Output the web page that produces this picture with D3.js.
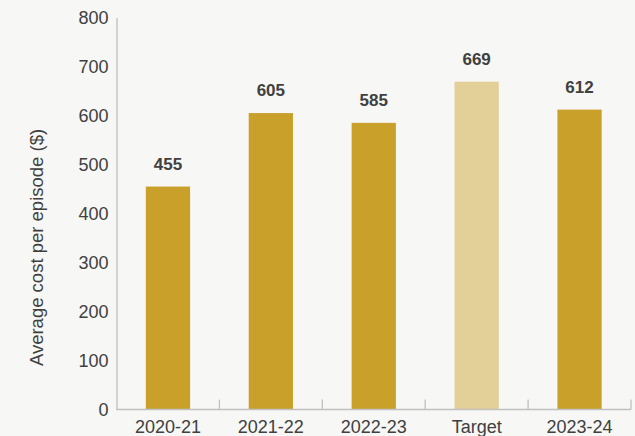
<!DOCTYPE html>
<html>
<head>
<meta charset="utf-8">
<script src="https://cdn.jsdelivr.net/npm/d3@7"></script>
<style>
  html, body { margin: 0; padding: 0; background: #f7f7f5; }
  svg { display: block; font-family: "Liberation Sans", Arial, sans-serif; }
</style>
</head>
<body>
<svg id="chart" width="635" height="436"></svg>
<script>
// Average cost per episode by year, with the target shown as a lighter bar
const categories = ["2020-21", "2021-22", "2022-23", "Target", "2023-24"];
const values = [455, 605, 585, 669, 612];
const isTarget = [false, false, false, true, false];
const yTicks = [0, 100, 200, 300, 400, 500, 600, 700, 800];

const svg = d3.select("#chart");
const W = 635, H = 436;
svg.append("rect").attr("width", W).attr("height", H).attr("fill", "#f7f7f5");

const plotLeft = 116.5, plotRight = 631, plotTop = 17.5, plotBottom = 409.5;
const textColor = "#404040";
const axisColor = "#c0c0c0";

const x = d3.scaleBand().domain(categories).range([plotLeft, plotRight]).paddingInner(0.57).paddingOuter(0.285);
const y = d3.scaleLinear().domain([0, 800]).range([plotBottom, plotTop]);

// Bars
svg.append("g").selectAll("rect")
  .data(categories)
  .join("rect")
  .attr("x", d => x(d))
  .attr("width", x.bandwidth())
  .attr("y", (d, i) => y(values[i]))
  .attr("height", (d, i) => y(0) - y(values[i]))
  .attr("fill", (d, i) => isTarget[i] ? "#e3cf98" : "#c9a02a");

// Value labels
svg.append("g").selectAll("text")
  .data(categories)
  .join("text")
  .attr("x", d => x(d) + x.bandwidth() / 2)
  .attr("y", (d, i) => y(values[i]) - 17)
  .attr("text-anchor", "middle")
  .attr("font-size", 17)
  .attr("font-weight", "bold")
  .attr("fill", textColor)
  .text((d, i) => values[i]);

// Y axis: line and labels, no tick marks
const yAxis = svg.append("g").attr("transform", `translate(${plotLeft},0)`)
  .call(d3.axisLeft(y).tickValues(yTicks).tickSize(0).tickPadding(8));
yAxis.select(".domain").attr("stroke", axisColor).attr("stroke-width", 1.3);
yAxis.selectAll("text").attr("font-size", 18).attr("fill", textColor)
  .attr("font-family", "Liberation Sans, Arial, sans-serif");

// X axis baseline with inward ticks between categories
const step = x.step();
const xg = svg.append("g");
xg.append("line")
  .attr("x1", plotLeft).attr("x2", plotRight)
  .attr("y1", plotBottom).attr("y2", plotBottom)
  .attr("stroke", axisColor).attr("stroke-width", 1.3);
xg.selectAll("line.sep")
  .data(categories)
  .join("line")
  .attr("class", "sep")
  .attr("x1", d => x(d) - x.paddingOuter() * step + step)
  .attr("x2", d => x(d) - x.paddingOuter() * step + step)
  .attr("y1", plotBottom).attr("y2", plotBottom - 10)
  .attr("stroke", axisColor).attr("stroke-width", 1.3);
xg.selectAll("text")
  .data(categories)
  .join("text")
  .attr("x", d => x(d) + x.bandwidth() / 2)
  .attr("y", 432.5)
  .attr("text-anchor", "middle")
  .attr("font-size", 18)
  .attr("fill", textColor)
  .text(d => d);

// Y axis title
svg.append("text")
  .attr("transform", "translate(43,247.5) rotate(-90)")
  .attr("text-anchor", "middle")
  .attr("font-size", 18.5)
  .attr("fill", textColor)
  .text("Average cost per episode ($)");
</script>
</body>
</html>
